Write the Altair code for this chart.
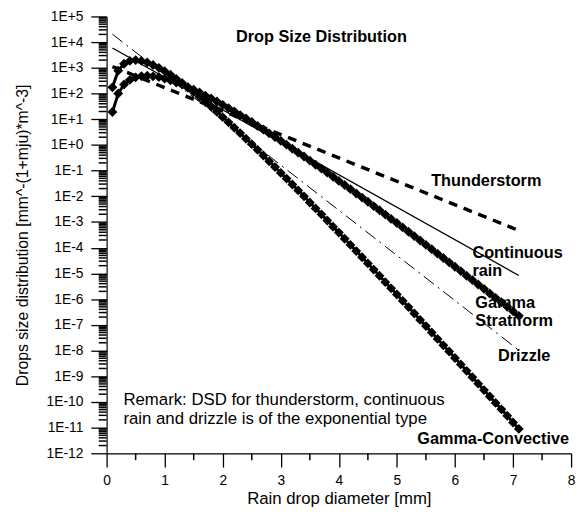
import altair as alt
import pandas as pd
import numpy as np

# ---------------- data (log10 of N(D)) ----------------
D_gamma = [0.1, 0.2, 0.3, 0.4, 0.5, 0.6, 0.7, 0.8, 0.9, 1.0,
           1.1, 1.2, 1.3, 1.4, 1.5, 1.6, 1.7, 1.8, 1.9, 2.0,
           2.1, 2.2, 2.3, 2.4, 2.5, 2.6, 2.7, 2.8, 2.9, 3.0,
           3.1, 3.2, 3.3, 3.4, 3.5, 3.6, 3.7, 3.8, 3.9, 4.0,
           4.1, 4.2, 4.3, 4.4, 4.5, 4.6, 4.7, 4.8, 4.9, 5.0,
           5.1, 5.2, 5.3, 5.4, 5.5, 5.6, 5.7, 5.8, 5.9, 6.0,
           6.1, 6.2, 6.3, 6.4, 6.5, 6.6, 6.7, 6.8, 6.9, 7.0, 7.1]

convective_log = [2.24, 2.89, 3.16, 3.27, 3.30, 3.27, 3.21, 3.11, 3.00, 2.87,
                  2.73, 2.57, 2.41, 2.23, 2.06, 1.87, 1.68, 1.49, 1.29, 1.08,
                  0.88, 0.67, 0.46, 0.24, 0.03, -0.19, -0.41, -0.64, -0.86, -1.09,
                  -1.31, -1.54, -1.77, -2.00, -2.24, -2.47, -2.70, -2.94, -3.18, -3.41,
                  -3.65, -3.89, -4.13, -4.37, -4.61, -4.85, -5.09, -5.34, -5.58, -5.82,
                  -6.07, -6.31, -6.56, -6.81, -7.05, -7.30, -7.55, -7.80, -8.04, -8.29,
                  -8.54, -8.79, -9.04, -9.29, -9.54, -9.79, -10.04, -10.29, -10.54, -10.80, -11.05]

stratiform_log = [1.28, 2.00, 2.35, 2.53, 2.63, 2.68, 2.69, 2.67, 2.64, 2.58,
                  2.51, 2.43, 2.35, 2.25, 2.15, 2.04, 1.92, 1.81, 1.69, 1.56,
                  1.43, 1.30, 1.16, 1.03, 0.89, 0.74, 0.60, 0.45, 0.31, 0.16,
                  0.01, -0.15, -0.30, -0.45, -0.61, -0.77, -0.92, -1.08, -1.24, -1.40,
                  -1.56, -1.72, -1.89, -2.05, -2.21, -2.38, -2.54, -2.71, -2.88, -3.04,
                  -3.21, -3.38, -3.55, -3.72, -3.89, -4.06, -4.23, -4.40, -4.57, -4.74,
                  -4.91, -5.09, -5.26, -5.43, -5.60, -5.78, -5.95, -6.12, -6.30, -6.47, -6.65]

# exponential DSDs: straight lines on the log axis (end points)
D_exp = [0.1, 7.1]
thunder_log = [3.05, -3.33]
continuous_log = [3.77, -5.08]
drizzle_log = [4.31, -7.99]

# annotations
label_text = ["Thunderstorm", "Continuous", "rain", "Gamma", "Stratiform", "Drizzle", "Gamma-Convective"]
label_x = [5.59, 6.30, 6.30, 6.35, 6.35, 6.74, 5.35]
label_lg = [-1.40, -4.20, -4.92, -6.15, -6.84, -8.22, -11.45]

remark_text = ["Remark: DSD for thunderstorm, continuous",
               "rain and drizzle is of the exponential type"]
remark_x = [0.29, 0.29]
remark_lg = [-9.94, -10.67]

title_text = ["Drop Size Distribution"]
title_x = [3.70]
title_lg = [4.20]

# axis tick positions
x_major = [0, 1, 2, 3, 4, 5, 6, 7, 8]
x_minor = [0.5, 1.5, 2.5, 3.5, 4.5, 5.5, 6.5, 7.5]
y_major = list(range(-12, 6))
y_minor = []
for n in range(-12, 5):
    for k in range(2, 10):
        y_minor.append(float(n + np.log10(k)))

FONT = "Liberation Sans"
W, H = 471, 443

common = dict(grid=False, domainColor="black", tickColor="black", labelColor="black",
              titleColor="black", labelFont=FONT, titleFont=FONT, tickWidth=1.3, domainWidth=1.2)

x_axis = alt.Axis(values=x_major, title="Rain drop diameter [mm]", format="d",
                  tickSize=14, labelPadding=7, labelFontSize=14, titleFontSize=17,
                  titleFontWeight="normal", titlePadding=3, labelFlush=False,
                  labelOverlap=False, orient="bottom", **common)
y_axis = alt.Axis(values=y_major, title="Drops size distribution [mm^-(1+mju)*m^-3]",
                  labelExpr="datum.value >= 0 ? '1E+' + round(datum.value) : '1E' + round(datum.value)",
                  tickSize=16, labelPadding=8, labelFontSize=14, titleFontSize=16,
                  titleFontWeight="normal", titlePadding=16, labelFlush=False,
                  labelOverlap=False, orient="left", **common)

xs = alt.Scale(domain=[0, 8], nice=False, zero=False)
ys = alt.Scale(domain=[-12, 5], nice=False, zero=False)
XE = alt.X("D:Q", scale=xs, axis=x_axis)
YE = alt.Y("lg:Q", scale=ys, axis=y_axis)


def enc(ch):
    return ch.encode(x=XE, y=YE)


def line_df(d, v):
    return pd.DataFrame({"D": d, "lg": v})


thunder = enc(alt.Chart(line_df(D_exp, thunder_log)).mark_line(
    color="black", strokeWidth=3.5, strokeDash=[9, 7]))
continuous = enc(alt.Chart(line_df(D_exp, continuous_log)).mark_line(
    color="black", strokeWidth=1.3))
drizzle = enc(alt.Chart(line_df(D_exp, drizzle_log)).mark_line(
    color="black", strokeWidth=1, strokeDash=[13, 5, 2, 5]))

pt = alt.OverlayMarkDef(shape="diamond", filled=True, size=100, color="black", opacity=1)
strat = enc(alt.Chart(line_df(D_gamma, stratiform_log)).mark_line(
    color="black", strokeWidth=3, point=pt))
conv = enc(alt.Chart(line_df(D_gamma, convective_log)).mark_line(
    color="black", strokeWidth=3, point=pt))

labels = enc(alt.Chart(pd.DataFrame({"D": label_x, "lg": label_lg, "t": label_text})).mark_text(
    align="left", baseline="middle", font=FONT, fontSize=16.5, fontWeight="bold", color="black"
)).encode(text="t:N")
remark = enc(alt.Chart(pd.DataFrame({"D": remark_x, "lg": remark_lg, "t": remark_text})).mark_text(
    align="left", baseline="middle", font=FONT, fontSize=17, color="black"
)).encode(text="t:N")
title = enc(alt.Chart(pd.DataFrame({"D": title_x, "lg": title_lg, "t": title_text})).mark_text(
    align="center", baseline="middle", font=FONT, fontSize=16.5, fontWeight="bold", color="black"
)).encode(text="t:N")

# minor tick marks of the axes (positions from the tick lists, through the scales)
y_minor_ticks = alt.Chart(pd.DataFrame({"lg": y_minor})).mark_rule(
    color="black", strokeWidth=1.5).encode(y=YE, x=alt.value(-8), x2=alt.value(0))
x_minor_ticks = alt.Chart(pd.DataFrame({"D": x_minor})).mark_rule(
    color="black", strokeWidth=1.5).encode(x=XE, y=alt.value(H), y2=alt.value(H + 7))

chart = alt.layer(y_minor_ticks, x_minor_ticks, thunder, continuous, drizzle, strat, conv,
                  labels, remark, title).properties(
    width=W, height=H,
    autosize=alt.AutoSizeParams(type="none"),
    padding={"left": 100, "top": 5, "right": 6, "bottom": 58},
    background="white",
).configure_view(stroke=None)

chart.save("out.html", embed_options={"renderer": "svg", "actions": False})
